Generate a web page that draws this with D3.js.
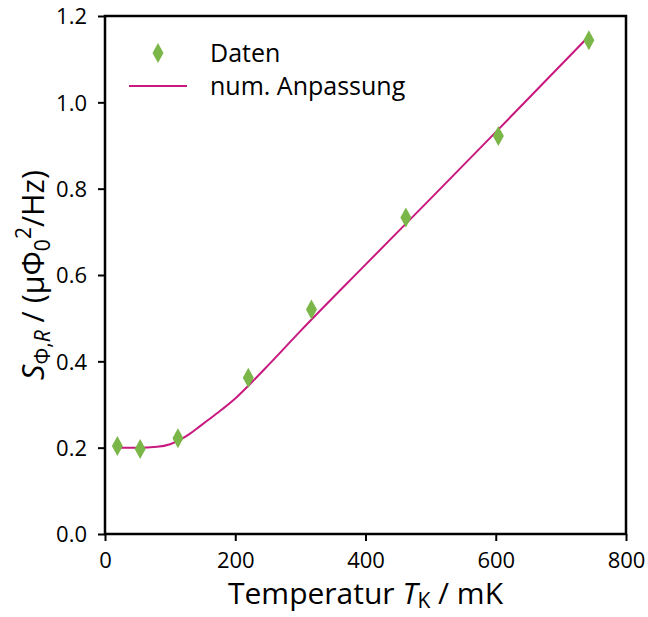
<!DOCTYPE html>
<html>
<head>
<meta charset="utf-8">
<script src="https://cdn.jsdelivr.net/npm/d3@7"></script>
<style>
  body { margin: 0; background: #fff; }
  text { font-family: "Open Sans", "DejaVu Sans", sans-serif; fill: #000; }
</style>
</head>
<body>
<div id="chart"></div>
<script>
// measured points
var dataT = [19, 54, 112, 220, 317, 462, 604, 743];
var dataS = [0.204, 0.197, 0.222, 0.362, 0.520, 0.733, 0.922, 1.144];

// fitted curve
var fitT = [20, 50, 80, 100, 115, 130, 146, 160, 180, 200, 225, 250, 300, 400, 500, 600, 743];
var fitS = [0.200, 0.200, 0.202, 0.208, 0.218, 0.232, 0.250, 0.266, 0.289, 0.314, 0.351, 0.390, 0.470, 0.624, 0.777, 0.931, 1.153];

var xTicks = [0, 200, 400, 600, 800];
var yTicks = [0.0, 0.2, 0.4, 0.6, 0.8, 1.0, 1.2];

var w = 648, h = 617;
var margin = { left: 105, right: 22, top: 16, bottom: 83 };

var svg = d3.select("#chart").append("svg")
  .attr("width", w)
  .attr("height", h);

var x = d3.scaleLinear().domain([0, 800]).range([margin.left, w - margin.right]);
var y = d3.scaleLinear().domain([0, 1.2]).range([h - margin.bottom, margin.top]);

// axes
var xAxis = svg.append("g")
  .attr("transform", "translate(0," + y(0) + ")")
  .call(d3.axisBottom(x).tickValues(xTicks).tickFormat(d3.format("d")).tickSize(7).tickPadding(11));
var yAxis = svg.append("g")
  .attr("transform", "translate(" + x(0) + ",0)")
  .call(d3.axisLeft(y).tickValues(yTicks).tickFormat(d3.format(".1f")).tickSize(7).tickPadding(11));

[xAxis, yAxis].forEach(function(a) {
  a.select(".domain").remove();
  a.selectAll("line").attr("stroke", "#000").attr("stroke-width", 2);
  a.selectAll("text").style("font-size", "22px").attr("fill", "#000");
});
yAxis.selectAll("text").attr("dy", "0.36em");

// frame
svg.append("rect")
  .attr("x", x(0))
  .attr("y", y(1.2))
  .attr("width", x(800) - x(0))
  .attr("height", y(0) - y(1.2))
  .attr("fill", "none")
  .attr("stroke", "#000")
  .attr("stroke-width", 2.5);

// fit line
var line = d3.line()
  .x(function(d, i) { return x(fitT[i]); })
  .y(function(d, i) { return y(fitS[i]); })
  .curve(d3.curveMonotoneX);

svg.append("path")
  .datum(fitT)
  .attr("d", line)
  .attr("fill", "none")
  .attr("stroke", "#c8197f")
  .attr("stroke-width", 2);

// thin diamonds
var green = "#7ab648";
function diamond(cx, cy) {
  var hw = 5.5, hh = 10;
  return "M" + cx + "," + (cy - hh) + "L" + (cx + hw) + "," + cy +
    "L" + cx + "," + (cy + hh) + "L" + (cx - hw) + "," + cy + "Z";
}

svg.append("g").selectAll("path")
  .data(dataT)
  .enter()
  .append("path")
  .attr("d", function(d, i) { return diamond(x(d), y(dataS[i])); })
  .attr("fill", green);

// legend
svg.append("path").attr("d", diamond(158, 53)).attr("fill", green);
svg.append("line")
  .attr("x1", 129).attr("x2", 187).attr("y1", 86).attr("y2", 86)
  .attr("stroke", "#c8197f").attr("stroke-width", 2);
svg.append("text").attr("x", 210).attr("y", 62).style("font-size", "25px").text("Daten");
svg.append("text").attr("x", 210).attr("y", 95).style("font-size", "25px").text("num. Anpassung");

// x label
var xl = svg.append("text")
  .attr("x", x(400))
  .attr("y", 604)
  .attr("text-anchor", "middle")
  .style("font-size", "30px");
xl.append("tspan").text("Temperatur ");
xl.append("tspan").style("font-style", "italic").text("T");
xl.append("tspan").attr("dy", 4).style("font-size", "21px").text("K");
xl.append("tspan").attr("dy", -4).text(" / mK");

// y label
var yl = svg.append("text")
  .attr("transform", "translate(44," + y(0.6) + ") rotate(-90)")
  .attr("text-anchor", "middle")
  .style("font-size", "30.5px");
yl.append("tspan").style("font-style", "italic").text("S");
yl.append("tspan").attr("dy", 6).style("font-size", "21px").text("Φ,");
yl.append("tspan").style("font-size", "21px").style("font-style", "italic").text("R");
yl.append("tspan").attr("dy", -6).text(" / (μΦ");
yl.append("tspan").attr("dy", 6).style("font-size", "21px").text("0");
yl.append("tspan").attr("dy", -19).style("font-size", "21px").text("2");
yl.append("tspan").attr("dy", 13).text("/Hz)");
</script>
</body>
</html>
